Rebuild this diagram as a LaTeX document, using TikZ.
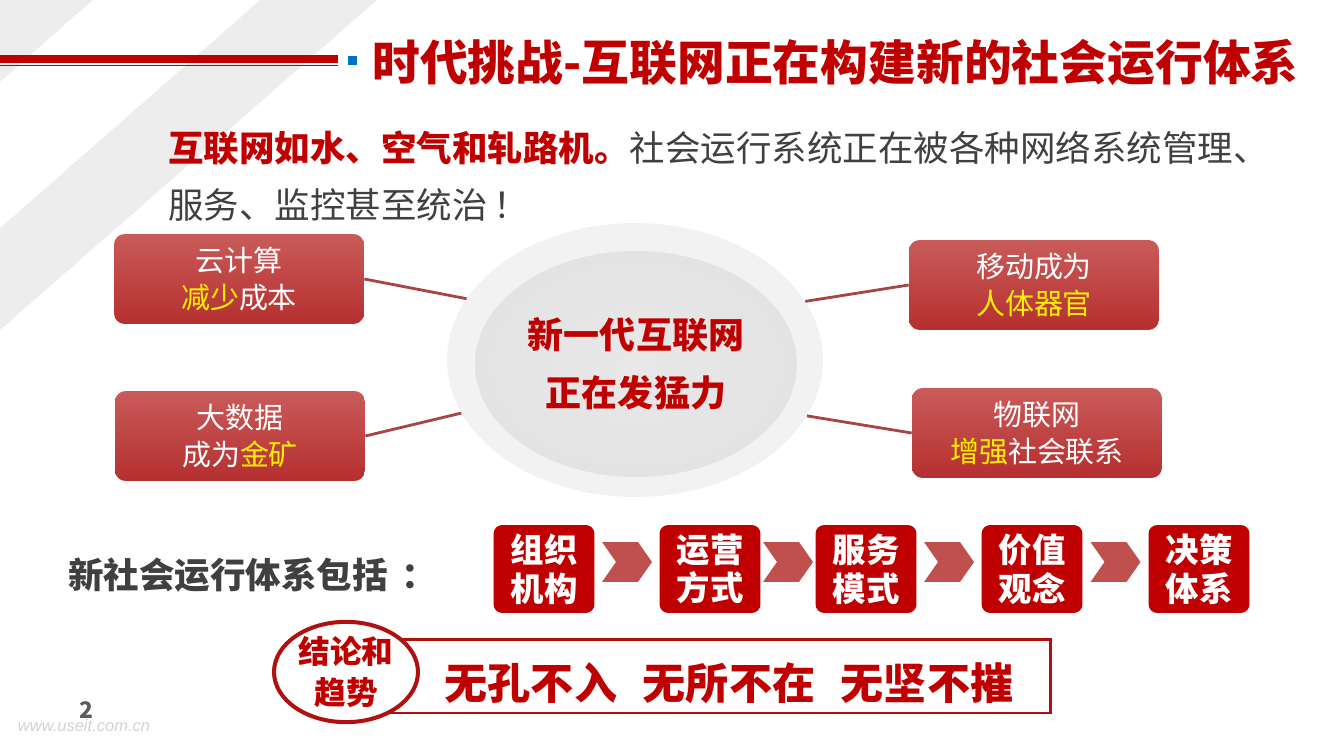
\documentclass[tikz,border=0pt]{standalone}
\usepackage{fontspec}
\setmainfont{Noto Sans CJK SC}
\newfontfamily\webfont{Liberation Sans}
\usetikzlibrary{shapes.geometric, shapes.symbols, calc}

\definecolor{titlered}{HTML}{C00000}
\definecolor{textgray}{HTML}{404040}
\definecolor{boxtop}{HTML}{C95C5A}
\definecolor{boxbot}{HTML}{B52F2F}
\definecolor{chevred}{HTML}{C0504D}
\definecolor{linkred}{HTML}{A84444}
\definecolor{markblue}{HTML}{0070C0}
\definecolor{hiyellow}{HTML}{FFF000}
\definecolor{backgray}{HTML}{EDEDED}
\definecolor{framered}{HTML}{B01010}

\newcommand{\hilite}[1]{\textcolor{hiyellow}{#1}}

\pgfdeclareradialshading{lensshade}{\pgfpoint{0bp}{0bp}}{%
  color(0bp)=(gray!18); color(26bp)=(gray!22); color(42bp)=(gray!34); color(50bp)=(gray!46)}

\begin{document}
\begin{tikzpicture}[x=0.02cm, y=-0.02cm,
    infobox/.style={rectangle, rounded corners=6pt, minimum width=5cm,
      minimum height=1.8cm, top color=boxtop, bottom color=boxbot,
      text=white, align=center, font=\fontsize{16.5}{21}\selectfont},
    flowbox/.style={rectangle, rounded corners=5pt, fill=titlered,
      minimum width=2.02cm, minimum height=1.76cm, text=white, align=center,
      font=\bfseries\fontsize{19}{22}\selectfont},
    chev/.style={signal, signal from=west, signal to=east,
      signal pointer angle=110, fill=chevred, minimum width=1cm,
      minimum height=0.8cm, inner sep=0pt},
    link/.style={draw=linkred, line width=1.6pt},
]
  \useasboundingbox (0,0) rectangle (1320,743);

  % ---- background marks ----
  \fill[backgray] (0,0) -- (377,0) -- (0,330) -- cycle;
  \fill[white] (93,0) -- (260,0) -- (0,228) -- (0,82) -- cycle;

  % ---- title bar ----
  \draw[titlered, line width=4.5pt] (0,59) -- (338,59);
  \draw[titlered, line width=0.6pt] (0,65.5) -- (338,65.5);
  \fill[markblue] (348,56) rectangle (357,65);
  \node[anchor=west, inner sep=0pt, text=titlered,
        font=\bfseries\fontsize{27.2}{30}\selectfont] (title) at (372,62)
    {时代挑战-互联网正在构建新的社会运行体系};

  % ---- lead text ----
  \node[anchor=west, inner sep=0pt, text=textgray,
        font=\fontsize{20.2}{24}\selectfont] (lead1) at (168,148)
    {\textcolor{titlered}{\bfseries 互联网如水、空气和轧路机。}社会运行系统正在被各种网络系统管理、};
  \node[anchor=west, inner sep=0pt, text=textgray,
        font=\fontsize{20.2}{24}\selectfont] (lead2) at (168,205)
    {服务、监控甚至统治\,！};

  % ---- centre ----
  \node[ellipse, fill=gray!10, minimum width=7.52cm, minimum height=5.48cm,
        inner sep=0pt] (ring) at (635,360) {};
  \node[ellipse, shading=lensshade, minimum width=6.44cm,
        minimum height=4.52cm, inner sep=0pt, align=center, text=titlered,
        font=\bfseries\fontsize{20.5}{33}\selectfont] (core) at (636,364)
    {新一代互联网\\正在发猛力};

  % ---- four boxes ----
  \node[infobox] (cloud) at (239,279) {云计算\\\hilite{减少}成本};
  \node[infobox] (data)  at (240,436) {大数据\\成为\hilite{金矿}};
  \node[infobox] (mobile) at (1034,285) {移动成为\\\hilite{人体器官}};
  \node[infobox] (iot)   at (1037,433) {物联网\\\hilite{增强}社会联系};

  \draw[link] (cloud.east) -- (ring.160);
  \draw[link] (data.east) -- (ring.197);
  \draw[link] (mobile.west) -- (ring.19);
  \draw[link] (iot.west) -- (ring.342);

  % ---- new social system ----
  \node[anchor=west, inner sep=0pt, text=textgray,
        font=\bfseries\fontsize{20.2}{24}\selectfont] (intro) at (68,575)
    {新社会运行体系包括\hspace{0.4em}：};

  \node[flowbox] (org) at (544,569) {组织\\机构};
  \node[flowbox] (ops) at (710,569) {运营\\方式};
  \node[flowbox] (svc) at (866,569) {服务\\模式};
  \node[flowbox] (val) at (1032,569) {价值\\观念};
  \node[flowbox] (dec) at (1199,569) {决策\\体系};

  \foreach \a/\b in {org/ops, ops/svc, svc/val, val/dec}
    \node[chev] (chev-\a) at ($(\a.east)!0.5!(\b.west)+(0,-7)$) {};

  % ---- conclusion ----
  \node[draw=framered, line width=1.7pt, minimum width=13.42cm,
        minimum height=1.48cm, inner sep=0pt] (frame) at (715.5,676) {};
  \node[text=titlered, inner sep=0pt,
        font=\bfseries\fontsize{24.5}{28}\selectfont] (motto) at (729,683)
    {无孔不入\hspace{0.6em}无所不在\hspace{0.6em}无坚不摧};
  \node[ellipse, draw=framered, line width=2.3pt, fill=white,
        minimum width=2.88cm, minimum height=2cm, inner sep=0pt,
        align=center, text=titlered,
        font=\bfseries\fontsize{18}{23}\selectfont] (stamp) at (346,672)
    {结论和\\趋势};

  % ---- footer ----
  \node[text=gray!35, inner sep=0pt, font=\webfont\itshape\fontsize{9.4}{10}\selectfont]
    (web) at (84,726) {www.useit.com.cn};
  \node[text=textgray!85, inner sep=0pt, font=\bfseries\fontsize{13}{14}\selectfont]
    (page) at (86,710) {2};
\end{tikzpicture}
\end{document}
